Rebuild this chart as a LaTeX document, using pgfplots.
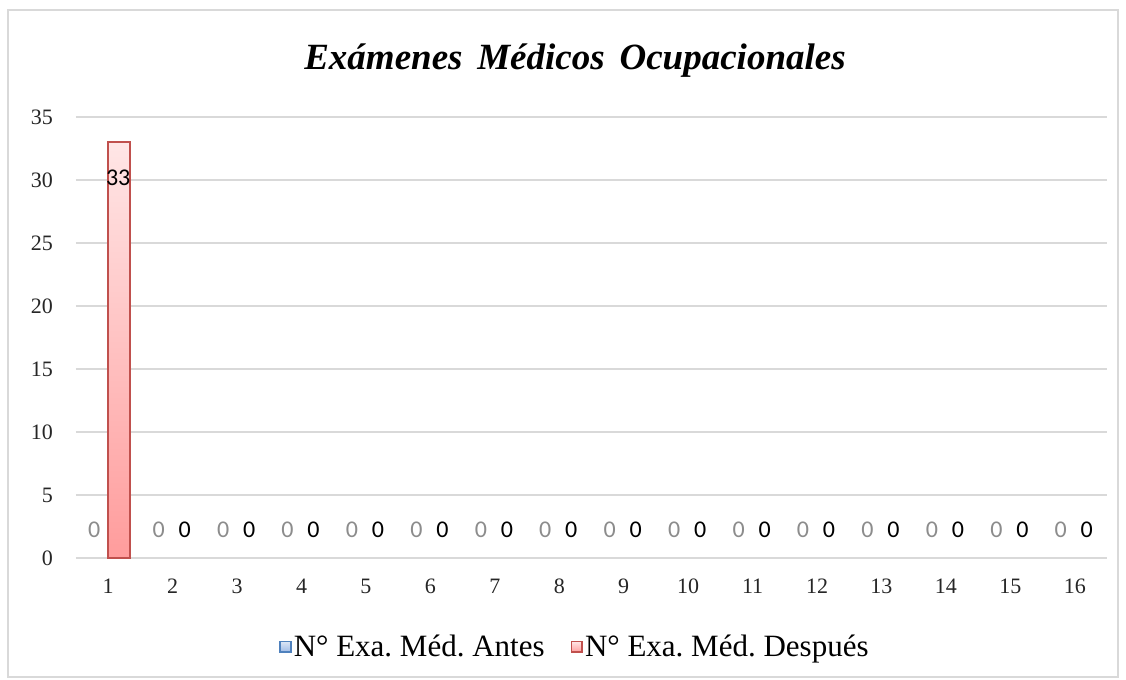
\documentclass[border=0pt]{standalone}
\usepackage{fontspec}
\setmainfont{Liberation Serif}
\newfontfamily\labfont{Carlito}
\usepackage{pgfplots}
\pgfplotsset{compat=1.18}
\usepackage{pgfplotstable}
\frenchspacing

\definecolor{gridgray}{HTML}{D9D9D9}
\definecolor{labgray}{HTML}{8C8C8C}
\definecolor{antesedge}{HTML}{4F81BD}
\definecolor{antestop}{HTML}{DCE6F5}
\definecolor{antesbot}{HTML}{9DBAE6}
\definecolor{despedge}{HTML}{C0504D}
\definecolor{desptop}{HTML}{FFE6E6}
\definecolor{despbot}{HTML}{FF9C9C}

\pgfplotstableread{
cat antes despues
1  0 33
2  0 0
3  0 0
4  0 0
5  0 0
6  0 0
7  0 0
8  0 0
9  0 0
10 0 0
11 0 0
12 0 0
13 0 0
14 0 0
15 0 0
16 0 0
}\examdata

\pgfplotsset{
  legsq/.style={legend image code/.code={
    \draw[##1, line width=0.8pt] (0pt,-2.6pt) rectangle (5.4pt,2.8pt);}},
}
\tikzset{lab/.style={font=\labfont\fontsize{12}{14}\selectfont, anchor=center}}

\begin{document}
\begin{tikzpicture}
\begin{axis}[
  at={(0,0)}, anchor=south west,
  scale only axis, width=515.5pt, height=220.5pt,
  xmin=0.5, xmax=16.5, ymin=0, ymax=35,
  xtick={1,...,16}, ytick={0,5,...,35},
  ymajorgrids, grid style={gridgray, line width=0.8pt},
  axis line style={draw=none},
  major tick length=0pt,
  ticklabel style={font=\fontsize{11}{13}\selectfont, text=black!85},
  /pgf/number format/assume math mode=true,
  yticklabel style={xshift=-8pt},
  xticklabel style={yshift=-7pt},
  clip=false,
  legend style={at={(0.484,-0.2018)}, anchor=center, draw=none, fill=none,
    font=\fontsize{15.5}{17}\selectfont, legend columns=2,
    nodes={inner xsep=1pt},
    /tikz/every even column/.append style={column sep=12pt}},
  legend cell align=left,
]
% Despues: bars (zero bars dropped so no baseline stub)
\addplot[ybar, bar width=11pt, xshift=5.5pt, draw=despedge, line width=1pt,
  top color=desptop, bottom color=despbot, forget plot,
  restrict y to domain=0.5:100, unbounded coords=discard]
  table[x=cat, y=despues]{\examdata};
% Antes: value labels (all zero)
\addplot[only marks, mark=none, forget plot,
  nodes near coords,
  nodes near coords style={lab, text=labgray, xshift=-7pt, yshift=14pt}]
  table[x=cat, y=antes]{\examdata};
% Despues: value labels
\addplot[only marks, mark=none, forget plot,
  restrict y to domain=0.5:100, unbounded coords=discard,
  nodes near coords,
  nodes near coords style={lab, text=black, xshift=5pt, yshift=-18pt}]
  table[x=cat, y=despues]{\examdata};
\addplot[only marks, mark=none, forget plot,
  restrict y to domain=-1:0.5, unbounded coords=discard,
  nodes near coords,
  nodes near coords style={lab, text=black, xshift=6pt, yshift=14pt}]
  table[x=cat, y=despues]{\examdata};

\addlegendimage{legsq, draw=antesedge, top color=antestop, bottom color=antesbot}
\addlegendentry{N° Exa. Méd. Antes}
\addlegendimage{legsq, draw=despedge, top color=desptop, bottom color=despbot}
\addlegendentry{N° Exa. Méd. Después}
\end{axis}
\node[font=\fontsize{18.5}{22}\selectfont\bfseries\itshape] at (249.5pt,248.5pt)
  {Exámenes\hspace{0.15em} Médicos\hspace{0.15em} Ocupacionales};
\pgfresetboundingbox
\draw[gridgray, line width=0.8pt] (-34pt,-59.5pt) rectangle (521pt,274pt);
\path (-38pt,-61pt) rectangle (525pt,279pt);
\end{tikzpicture}
\end{document}
